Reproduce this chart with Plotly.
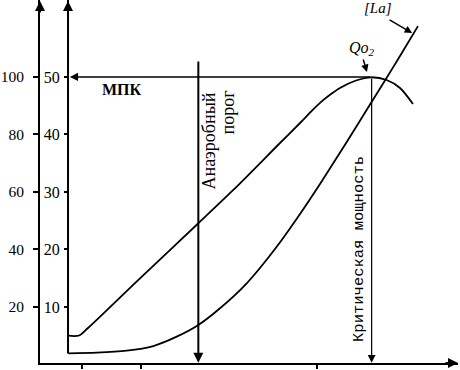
import plotly.graph_objects as go

# ---- data ----
x_tick_vals = [1, 2, 5]
y_outer_ticks = [20, 40, 60, 80, 100]
y_inner_ticks = [10, 20, 30, 40, 50]

# oxygen consumption curve (inner axis, 0-50)
qo2_x = [0.762, 0.949, 1.102, 1.987, 2.980, 3.575, 4.370, 4.711, 4.881, 5.051, 5.221, 5.391, 5.664, 5.920, 6.186, 6.413, 6.634]
qo2_y = [5.01, 5.04, 6.35, 14.99, 24.56, 30.35, 38.52, 42.0, 43.8, 45.5, 46.9, 48.1, 49.39, 49.95, 49.48, 48.09, 45.30]

# lactate curve (outer axis, 0-100)
la_x = [0.767, 1.250, 1.761, 2.214, 2.612, 2.980, 3.349, 3.803, 4.314, 4.711, 5.051, 5.506, 5.902, 6.157, 6.413, 6.719]
la_y = [3.90, 4.10, 4.80, 6.43, 9.67, 13.74, 19.55, 28.24, 40.97, 52.35, 62.78, 77.39, 90.43, 98.78, 107.3, 117.7]

mpk_inner = 50
anaerobic_threshold = 2.98
critical_power = 5.93
inner_axis_x = 0.762

x_range = [0.285, 7.40]
y_outer_range = [0.52, 126.78]
y_inner_range = [0.26, 63.39]

serif = "Liberation Serif"

fig = go.Figure()
fig.add_trace(go.Scatter(x=qo2_x, y=qo2_y, yaxis="y2", mode="lines",
                         line=dict(color="black", width=1.8, shape="spline", smoothing=0.8),
                         hoverinfo="skip", showlegend=False))
fig.add_trace(go.Scatter(x=la_x, y=la_y, yaxis="y", mode="lines",
                         line=dict(color="black", width=1.8, shape="spline", smoothing=0.8),
                         hoverinfo="skip", showlegend=False))

# inner axis line
fig.add_shape(type="line", xref="x", yref="y2", x0=inner_axis_x, x1=inner_axis_x,
              y0=1.9, y1=y_inner_range[1], line=dict(color="black", width=2))

ann = []
def arrow(x, y, ax, ay, xref="x", yref="y", axref=None, ayref=None, w=1.5, head=2, size=1.2):
    d = dict(x=x, y=y, ax=ax, ay=ay, xref=xref, yref=yref, text="", showarrow=True,
             arrowhead=head, arrowsize=size, arrowwidth=w, arrowcolor="black", standoff=0,
             startstandoff=0)
    if axref:
        d["axref"] = axref
    if ayref:
        d["ayref"] = ayref
    ann.append(d)

# axis arrowheads
arrow(0, 1, 0, 14, xref="paper", yref="paper", w=2, size=1)
arrow(inner_axis_x, 1, 0, 14, xref="x", yref="paper", w=2, size=1)
arrow(1, 0, -14, 0, xref="paper", yref="paper", w=2, size=1)

# MPK horizontal arrow
arrow(inner_axis_x + 0.03, mpk_inner, critical_power, mpk_inner, yref="y2", axref="x", ayref="y2", w=1.5, size=1.1)
# anaerobic threshold vertical arrow
arrow(anaerobic_threshold, 0.6, anaerobic_threshold, 105.9, axref="x", ayref="y", w=2, size=1)
# critical power vertical arrow
arrow(critical_power, 0.6, critical_power, 100, axref="x", ayref="y", w=1.2, size=1.3)
# label arrows
arrow(5.85, 101.7, 5.78, 106.6, axref="x", ayref="y", w=1.5, size=1)
arrow(6.62, 115.3, 6.21, 120.2, axref="x", ayref="y", w=1.5, size=1)

texts = [
    dict(x=1.68, y=95.8, text="<b>МПК</b>", font=dict(family=serif, size=16, color="black")),
    dict(x=5.77, y=110, text="<i>Qo<sub>2</sub></i>", font=dict(family=serif, size=16, color="black")),
    dict(x=6.04, y=124, text="<i>[La]</i>", font=dict(family=serif, size=15, color="black")),
    dict(x=3.162, y=77.57, text="Анаэробный", textangle=-90,
         font=dict(family=serif, size=18, color="black")),
    dict(x=3.468, y=87.65, text="порог", textangle=-90,
         font=dict(family=serif, size=18, color="black")),
    dict(x=5.715, y=40.2, text="Критическая мощность", textangle=-90,
         font=dict(family="Liberation Mono", size=15.5, color="black")),
]
for t in texts:
    t.update(xref="x", yref="y", showarrow=False, xanchor="center", yanchor="middle")
    ann.append(t)

fig.update_layout(
    template="none",
    width=460, height=370,
    margin=dict(l=40, r=2, t=0, b=7),
    paper_bgcolor="white", plot_bgcolor="white",
    annotations=ann,
    xaxis=dict(range=x_range, automargin=False, showgrid=False, zeroline=False, showline=True,
               linecolor="black", linewidth=2, ticks="outside", tickvals=x_tick_vals,
               ticklen=4, tickwidth=1.5, tickcolor="black", showticklabels=False),
    yaxis=dict(range=y_outer_range, automargin=False, showgrid=False, zeroline=False, showline=True,
               linecolor="black", linewidth=2, ticks="outside", tickvals=y_outer_ticks,
               ticklen=5, tickwidth=1.5, tickcolor="black",
               tickfont=dict(family=serif, size=15.5, color="black"), ticklabelstandoff=6),
    yaxis2=dict(range=y_inner_range, automargin=False, overlaying="y", anchor="free", position=28 / 418,
                side="left", showgrid=False, zeroline=False, showline=False,
                ticks="outside", tickvals=y_inner_ticks, ticklen=4, tickwidth=1.5,
                tickcolor="black", tickfont=dict(family=serif, size=16, color="black"),
                ticklabelstandoff=1),
)

fig.write_html("out.html", config={"displayModeBar": False},
               post_script="document.body.style.margin='0';document.body.style.overflow='hidden';")
